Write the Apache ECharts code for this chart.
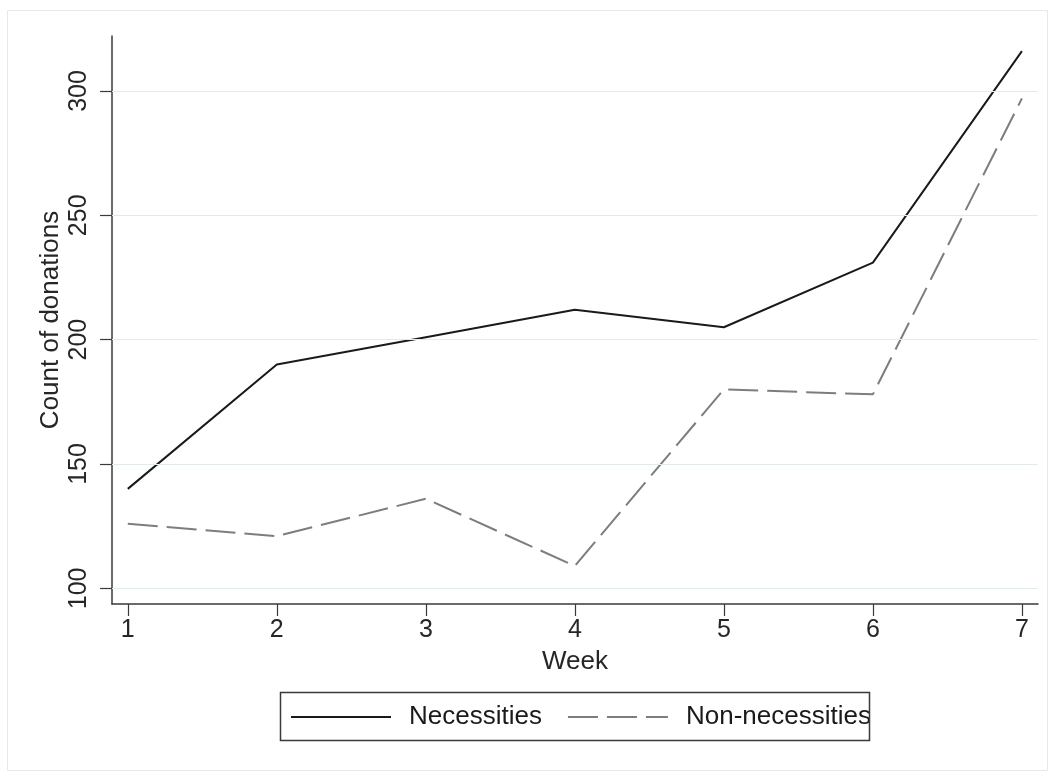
<!DOCTYPE html>
<html>
<head>
<meta charset="utf-8">
<style>
  html, body { margin: 0; padding: 0; background: #ffffff; }
  #chart { width: 1053px; height: 771px; }
</style>
<script src="https://cdn.jsdelivr.net/npm/echarts@6/dist/echarts.min.js"></script>
</head>
<body>
<div id="chart"></div>
<script>
// Weekly donation counts by type
const weeks = [1, 2, 3, 4, 5, 6, 7];
const necessities = [140, 190, 201, 212, 205, 231, 316];
const nonNecessities = [126, 121, 136, 109, 180, 178, 297];
const yTicks = [100, 150, 200, 250, 300];
const xTicks = [1, 2, 3, 4, 5, 6, 7];

const FONT = '"Liberation Sans", Arial, Helvetica, sans-serif';
const chart = echarts.init(document.getElementById('chart'), null, { renderer: 'canvas' });

const pairs = arr => weeks.map((w, i) => [w, arr[i]]);

chart.setOption({
  animation: false,
  backgroundColor: '#ffffff',
  textStyle: { fontFamily: FONT },
  grid: { left: 112, right: 15, top: 36, bottom: 167, containLabel: false },
  xAxis: {
    type: 'value',
    min: 0.894,
    max: 7.108,
    name: 'Week',
    nameLocation: 'middle',
    nameGap: 45,
    nameMoveOverlap: false,
    nameTextStyle: { fontSize: 26, color: '#262626', fontFamily: FONT },
    axisLine: { show: true, lineStyle: { color: '#3a3a3a', width: 1.5 } },
    axisTick: { show: true, length: 12, customValues: xTicks, lineStyle: { color: '#3a3a3a', width: 1.2 } },
    axisLabel: { customValues: xTicks, fontSize: 25, color: '#262626', margin: 14, fontFamily: FONT },
    splitLine: { show: false }
  },
  yAxis: {
    type: 'value',
    min: 93.7,
    max: 322.1,
    name: 'Count of donations',
    nameLocation: 'middle',
    nameRotate: 90,
    nameGap: 48,
    nameMoveOverlap: false,
    nameTextStyle: { fontSize: 26, color: '#262626', fontFamily: FONT },
    axisLine: { show: true, lineStyle: { color: '#3a3a3a', width: 1.5 } },
    axisTick: { show: true, length: 12, customValues: yTicks, lineStyle: { color: '#3a3a3a', width: 1.2 } },
    axisLabel: { customValues: yTicks, rotate: 90, fontSize: 25, color: '#262626', margin: 20, fontFamily: FONT },
    splitLine: { show: false }
  },
  legend: {
    left: 290,
    top: 704,
    padding: 0,
    itemWidth: 100,
    itemHeight: 26,
    itemGap: 25,
    itemStyle: { color: 'transparent', borderWidth: 0, opacity: 0 },
    textStyle: { fontSize: 26, color: '#1a1a1a', fontFamily: FONT, padding: [0, 0, 0, 13] },
    data: ['Necessities', 'Non-necessities']
  },
  graphic: [
    {
      type: 'rect',
      shape: { x: 7.5, y: 10.5, width: 1040, height: 760 },
      style: { fill: 'none', stroke: '#e4eaea', lineWidth: 1 },
      silent: true, z: -1
    },
    {
      type: 'rect',
      shape: { x: 280.5, y: 692.5, width: 589, height: 48 },
      style: { fill: 'none', stroke: '#3a3a3a', lineWidth: 1.5 },
      silent: true, z: 10
    }
  ],
  series: [
    {
      name: 'Necessities',
      type: 'line',
      data: pairs(necessities),
      symbol: 'none',
      lineStyle: { color: '#1a1a1a', width: 2 },
      itemStyle: { color: '#1a1a1a' },
      z: 3,
      markLine: {
        silent: true,
        symbol: 'none',
        label: { show: false },
        lineStyle: { color: '#e3eaea', width: 1.2, type: 'solid' },
        data: yTicks.map(v => ({ yAxis: v }))
      }
    },
    {
      name: 'Non-necessities',
      type: 'line',
      data: pairs(nonNecessities),
      symbol: 'none',
      lineStyle: { color: '#7d7d7d', width: 2, type: [30, 9] },
      itemStyle: { color: '#7d7d7d' },
      z: 4
    }
  ]
});
</script>
</body>
</html>
